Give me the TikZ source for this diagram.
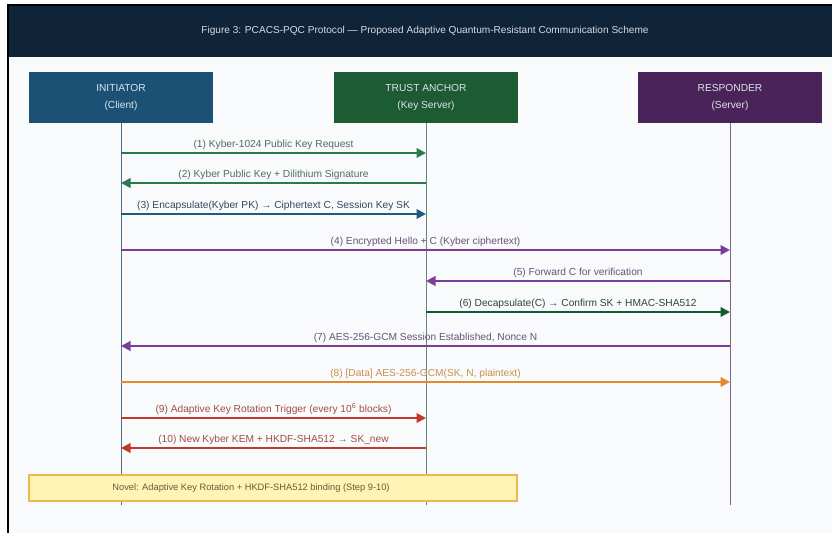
\documentclass[tikz,border=0pt]{standalone}
\usepackage{fontspec}
\setmainfont{Liberation Sans}
\usetikzlibrary{arrows.meta}
\definecolor{titlebg}{HTML}{0F2339}
\definecolor{titlefg}{HTML}{D5DCE5}
\definecolor{pagebg}{HTML}{F8FAFC}
\definecolor{inic}{HTML}{1B5175}
\definecolor{trustc}{HTML}{1D5B33}
\definecolor{respc}{HTML}{4A2459}
\definecolor{boxfg}{HTML}{DCE3EA}
\definecolor{lifeI}{HTML}{4F6E8A}
\definecolor{lifeT}{HTML}{5E8C7C}
\definecolor{lifeR}{HTML}{7A6890}
\definecolor{cgreen}{HTML}{2A7A4E}
\definecolor{tgreen}{HTML}{4E6E5E}
\definecolor{cblue}{HTML}{1F5A80}
\definecolor{tblue}{HTML}{34495E}
\definecolor{cpurple}{HTML}{7D3C98}
\definecolor{tpurple}{HTML}{665577}
\definecolor{cdkgreen}{HTML}{145A32}
\definecolor{tdkgreen}{HTML}{2E4638}
\definecolor{corange}{HTML}{E38B2C}
\definecolor{torange}{HTML}{C8914A}
\definecolor{cred}{HTML}{C0392B}
\definecolor{tred}{HTML}{A2503F}
\definecolor{notefill}{HTML}{FFF4B5}
\definecolor{notedraw}{HTML}{EDB84A}
\definecolor{notefg}{HTML}{6A5A35}
\begin{document}
\begin{tikzpicture}[x=1pt,y=-1pt,
  actor/.style={minimum width=184pt,minimum height=51pt,inner sep=0pt,align=center,
    text=boxfg,font=\fontsize{10.2}{17}\selectfont},
  life/.style={line width=1pt},
  msg/.style={line width=2pt,-{Triangle[length=9.5pt,width=9.5pt]}},
  lbl/.style={above=2.5pt,inner sep=0pt,font=\fontsize{10.2}{12}\selectfont},
  note/.style={minimum width=488pt,minimum height=26pt,inner sep=0pt,fill=notefill,
    draw=notedraw,line width=1.5pt,text=notefg,font=\fontsize{9.3}{11}\selectfont}]
\useasboundingbox (0,0) rectangle (832,533);
\fill[white] (0,0) rectangle (832,533);
\fill[pagebg] (9,57) rectangle (832,533);
\fill[titlebg] (9,6) rectangle (832,57);
\draw[black,line width=2pt] (8,533) -- (8,5) -- (832,5);
\node[text=titlefg,font=\fontsize{10.1}{12}\selectfont] (title) at (425,31)
  {Figure 3: PCACS-PQC Protocol — Proposed Adaptive Quantum-Resistant Communication Scheme};
% actors
\node[actor,fill=inic] (ini) at (121,97.5) {INITIATOR\\(Client)};
\node[actor,fill=trustc] (tru) at (426,97.5) {TRUST ANCHOR\\(Key Server)};
\node[actor,fill=respc] (res) at (730,97.5) {RESPONDER\\(Server)};
% lifelines
\coordinate (iniE) at (121,505);
\coordinate (truE) at (426,505);
\coordinate (resE) at (730,505);
\draw[life,lifeI] (ini.south) -- (iniE);
\draw[life,lifeT] (tru.south) -- (truE);
\draw[life,lifeR] (res.south) -- (resE);
% message anchors
\foreach \n/\y in {1/153,2/183,3/214,4/250,5/281,6/312,7/346,8/382,9/418,10/448}{
  \coordinate (I\n) at (121,\y);
  \coordinate (T\n) at (426,\y);
  \coordinate (R\n) at (730,\y);
}
\draw[msg,cgreen] (I1) -- node[lbl,text=tgreen]{(1) Kyber-1024 Public Key Request} (T1);
\draw[msg,cgreen] (T2) -- node[lbl,text=tgreen]{(2) Kyber Public Key + Dilithium Signature} (I2);
\draw[msg,cblue] (I3) -- node[lbl,text=tblue]{(3) Encapsulate(Kyber PK) → Ciphertext C, Session Key SK} (T3);
\draw[msg,cpurple] (I4) -- node[lbl,text=tpurple]{(4) Encrypted Hello + C (Kyber ciphertext)} (R4);
\draw[msg,cpurple] (R5) -- node[lbl,text=tpurple]{(5) Forward C for verification} (T5);
\draw[msg,cdkgreen] (T6) -- node[lbl,text=tdkgreen]{(6) Decapsulate(C) → Confirm SK + HMAC-SHA512} (R6);
\draw[msg,cpurple] (R7) -- node[lbl,text=tpurple]{(7) AES-256-GCM Session Established, Nonce N} (I7);
\draw[msg,corange] (I8) -- node[lbl,text=torange]{(8) [Data] AES-256-GCM(SK, N, plaintext)} (R8);
\draw[msg,cred] (I9) -- node[lbl,text=tred]{(9) Adaptive Key Rotation Trigger (every 10\textsuperscript{6} blocks)} (T9);
\draw[msg,cred] (T10) -- node[lbl,text=tred]{(10) New Kyber KEM + HKDF-SHA512 → SK\_new} (I10);
% note
\node[note] (nov) at (273,488) {Novel: Adaptive Key Rotation + HKDF-SHA512 binding (Step 9-10)\hspace*{44pt}};
\end{tikzpicture}
\end{document}
